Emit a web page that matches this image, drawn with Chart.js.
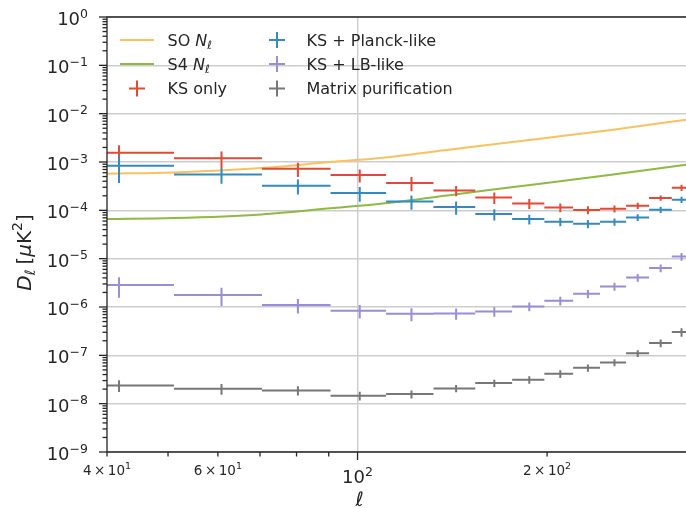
<!DOCTYPE html>
<html>
<head>
<meta charset="utf-8">
<script src="https://cdn.jsdelivr.net/npm/chart.js@4.4.0/dist/chart.umd.min.js"></script>
<style>
  html, body { margin: 0; padding: 0; background: #fff; overflow: hidden; }
</style>
</head>
<body>
<canvas id="chart" width="686" height="508"></canvas>
<script>
// ── Data ───────────────────────────────────────────────────────────

// multipole bins: edges and centres
const BIN_EDGES = [32.5, 51.1, 70.5, 90.6, 111, 132, 153.8, 176, 198, 220, 242.7, 267, 290.4, 315.6, 340];
const BIN_ELL   = [41.8, 60.8, 80.4, 100.8, 121.8, 143.4, 164.9, 187.4, 209.9, 232.2, 255.9, 278.6, 303, 327];

const KS_ONLY      = [1.56e-3, 1.19e-3, 7.27e-4, 5.38e-4, 3.67e-4, 2.58e-4, 1.85e-4, 1.39e-4, 1.15e-4, 1.02e-4, 1.08e-4, 1.25e-4, 1.80e-4, 2.94e-4];
const KS_ONLY_ERR  = [6.6e-4, 4.5e-4, 2.4e-4, 1.6e-4, 1.2e-4, 6.2e-5, 5.0e-5, 3.2e-5, 2.4e-5, 1.9e-5, 1.8e-5, 1.9e-5, 2.2e-5, 4.3e-5];

const KS_PLANCK     = [8.38e-4, 5.53e-4, 3.23e-4, 2.28e-4, 1.53e-4, 1.17e-4, 8.39e-5, 6.6e-5, 5.8e-5, 5.28e-5, 5.8e-5, 7.14e-5, 1.03e-4, 1.66e-4];
const KS_PLANCK_ERR = [4.7e-4, 2.0e-4, 1.1e-4, 7.7e-5, 5.0e-5, 3.6e-5, 2.2e-5, 1.5e-5, 1.1e-5, 1.0e-5, 1.0e-5, 1.15e-5, 1.5e-5, 2.4e-5];

const KS_LB     = [2.85e-6, 1.77e-6, 1.10e-6, 8.37e-7, 7.26e-7, 7.36e-7, 8.1e-7, 1.03e-6, 1.35e-6, 1.88e-6, 2.67e-6, 4.09e-6, 6.41e-6, 1.11e-5];
const KS_LB_ERR = [1.3e-6, 7.2e-7, 3.7e-7, 2.6e-7, 2.2e-7, 1.9e-7, 1.8e-7, 2.1e-7, 2.7e-7, 3.6e-7, 5.0e-7, 7.5e-7, 1.2e-6, 2.0e-6];

const MATRIX     = [2.39e-8, 2.04e-8, 1.88e-8, 1.46e-8, 1.58e-8, 2.07e-8, 2.67e-8, 3.13e-8, 4.16e-8, 5.54e-8, 7.13e-8, 1.10e-7, 1.80e-7, 3.03e-7];
const MATRIX_ERR = [6.5e-9, 5.1e-9, 4.0e-9, 3.0e-9, 3.0e-9, 3.5e-9, 4.5e-9, 5.5e-9, 7.5e-9, 9.5e-9, 1.2e-8, 1.8e-8, 3.3e-8, 6.0e-8];

// noise curves
const NOISE_ELL = [40, 51, 70.4, 90.6, 108.8, 145.7, 195, 254.7, 332.4];
const SO_NL     = [5.73e-4, 6.09e-4, 7.52e-4, 1.0e-3, 1.21e-3, 1.92e-3, 3.03e-3, 4.66e-3, 7.5e-3];
const S4_NL     = [6.61e-5, 6.93e-5, 8.24e-5, 1.10e-4, 1.37e-4, 2.21e-4, 3.56e-4, 5.54e-4, 8.79e-4];

// axes
const X_MIN = 40, X_MAX = 332.4;
const Y_EXPS = [-9, -8, -7, -6, -5, -4, -3, -2, -1, 0];
const X_TICKS = [40, 50, 60, 70, 80, 90, 100, 200];
const X_MAJOR = [100];
const X_LABEL_AT   = [40, 60, 200];
const X_LABEL_MANT = ['4', '6', '2'];
const X_LABEL_EXP  = ['1', '1', '2'];

// ── Style ──────────────────────────────────────────────────────────

const FONT = "'DejaVu Sans'";
const INK  = '#262626';
const GRID = '#cdcdcd';
const COL = {
  so: '#FBC15E', s4: '#8EBA42',
  ks: '#E24A33', planck: '#348ABD', lb: '#988ED5', matrix: '#777777',
};

// horizontal bin bar + vertical error bar for each bin, separated by gaps
function errorbarPoints(vals, errs) {
  const pts = [];
  vals.forEach((v, i) => {
    pts.push({ x: BIN_EDGES[i], y: v }, { x: BIN_EDGES[i + 1], y: v }, { x: BIN_EDGES[i + 1], y: null });
    pts.push({ x: BIN_ELL[i], y: v - errs[i] }, { x: BIN_ELL[i], y: v + errs[i] }, { x: BIN_ELL[i], y: null });
  });
  return pts;
}

function errorSet(label, vals, errs, color, order) {
  return {
    label, data: errorbarPoints(vals, errs),
    borderColor: color, borderWidth: 2, pointRadius: 0,
    spanGaps: false, tension: 0, clip: 0, order,
  };
}

function curveSet(label, vals, color) {
  return {
    label, data: NOISE_ELL.map((l, i) => ({ x: l, y: vals[i] })),
    borderColor: color, borderWidth: 2, pointRadius: 0,
    cubicInterpolationMode: 'monotone', clip: 0, order: 10,
  };
}

// ── Rich text helper (mathtext-like super/subscripts) ─────────────

function fontOf(p) { return `${p.it ? 'italic ' : ''}${p.s}px ${FONT}`; }

function richWidth(ctx, parts) {
  let w = 0;
  for (const p of parts) { ctx.font = fontOf(p); w += ctx.measureText(p.t).width + (p.gap || 0); }
  return w;
}

function drawRich(ctx, parts, x, y, align) {
  const w = richWidth(ctx, parts);
  let cx = align === 'right' ? x - w : align === 'center' ? x - w / 2 : x;
  for (const p of parts) {
    ctx.font = fontOf(p);
    ctx.fillText(p.t, cx, y + (p.dy || 0));
    cx += ctx.measureText(p.t).width + (p.gap || 0);
  }
}

function supExp(e) { return e < 0 ? '\u2212' + (-e) : String(e); }

// ── Axes decoration: spines, ticks, labels, legend ────────────────

const decor = {
  id: 'decor',
  afterDraw(chart) {
    const { ctx, chartArea: a, scales: { x, y } } = chart;
    ctx.save();
    ctx.strokeStyle = INK;
    ctx.fillStyle = INK;
    ctx.lineWidth = 1.3;
    ctx.textBaseline = 'alphabetic';

    // spines
    ctx.beginPath();
    ctx.moveTo(a.right + 2, a.top); ctx.lineTo(a.left, a.top);
    ctx.lineTo(a.left, a.bottom); ctx.lineTo(a.right + 2, a.bottom);
    ctx.stroke();

    // y ticks (major + minor) and labels
    Y_EXPS.forEach(e => {
      for (let m = 1; m <= 9; m++) {
        if (e === 0 && m > 1) break;
        const py = y.getPixelForValue(m * Math.pow(10, e));
        const len = m === 1 ? 8 : 4.5;
        ctx.beginPath(); ctx.moveTo(a.left - len, py); ctx.lineTo(a.left, py); ctx.stroke();
      }
      const py = y.getPixelForValue(Math.pow(10, e));
      drawRich(ctx, [{ t: '10', s: 18 }, { t: supExp(e), s: 12.5, dy: -7.5 }], a.left - 19, py + 8, 'right');
    });

    // x ticks and labels
    X_TICKS.forEach(v => {
      const px = x.getPixelForValue(v);
      if (px > a.right + 1) return;
      const len = X_MAJOR.includes(v) ? 8 : 4.5;
      ctx.beginPath(); ctx.moveTo(px, a.bottom); ctx.lineTo(px, a.bottom + len); ctx.stroke();
    });
    X_MAJOR.forEach(v => {
      const px = x.getPixelForValue(v);
      drawRich(ctx, [{ t: '10', s: 18 }, { t: String(Math.round(Math.log10(v))), s: 12.5, dy: -7.5 }], px, a.bottom + 31, 'center');
    });
    X_LABEL_AT.forEach((v, i) => {
      const px = x.getPixelForValue(v);
      drawRich(ctx, [
        { t: X_LABEL_MANT[i], s: 13.5, gap: 2.5 }, { t: '\u00d7', s: 13.5, gap: 2.5 },
        { t: '10', s: 13.5 }, { t: X_LABEL_EXP[i], s: 9.5, dy: -6 },
      ], px, a.bottom + 23, 'center');
    });

    // axis titles
    drawRich(ctx, [{ t: '\u2113', s: 20, it: true }], x.getPixelForValue(100) + 2, 506, 'center');
    ctx.save();
    ctx.translate(31, (a.top + a.bottom) / 2 + 18);
    ctx.rotate(-Math.PI / 2);
    drawRich(ctx, [
      { t: 'D', s: 20, it: true }, { t: '\u2113', s: 14, it: true, dy: 4, gap: 5 },
      { t: '[', s: 20 }, { t: '\u03bc', s: 20, it: true }, { t: 'K', s: 20 },
      { t: '2', s: 14, dy: -9 }, { t: ']', s: 20 },
    ], 0, 0, 'center');
    ctx.restore();

    // legend (two columns, no frame)
    const rows = [40, 64, 88.5];
    const lineHandle = (yy, c) => {
      ctx.strokeStyle = c; ctx.lineWidth = 2;
      ctx.beginPath(); ctx.moveTo(120, yy); ctx.lineTo(154, yy); ctx.stroke();
    };
    const plusHandle = (cx, yy, c) => {
      ctx.strokeStyle = c; ctx.lineWidth = 2;
      ctx.beginPath();
      ctx.moveTo(cx - 8, yy); ctx.lineTo(cx + 8, yy);
      ctx.moveTo(cx, yy - 8); ctx.lineTo(cx, yy + 8);
      ctx.stroke();
    };
    lineHandle(rows[0], COL.so);
    lineHandle(rows[1], COL.s4);
    plusHandle(137, rows[2], COL.ks);
    plusHandle(277, rows[0], COL.planck);
    plusHandle(277, rows[1], COL.lb);
    plusHandle(277, rows[2], COL.matrix);

    ctx.fillStyle = INK;
    drawRich(ctx, [{ t: 'SO ', s: 16 }, { t: 'N', s: 16, it: true }, { t: '\u2113', s: 11.5, it: true, dy: 3 }], 167.5, rows[0] + 5.8, 'left');
    drawRich(ctx, [{ t: 'S4 ', s: 16 }, { t: 'N', s: 16, it: true }, { t: '\u2113', s: 11.5, it: true, dy: 3 }], 167.5, rows[1] + 5.8, 'left');
    drawRich(ctx, [{ t: 'KS only', s: 16 }], 167.5, rows[2] + 5.8, 'left');
    drawRich(ctx, [{ t: 'KS + Planck-like', s: 16 }], 306.5, rows[0] + 5.8, 'left');
    drawRich(ctx, [{ t: 'KS + LB-like', s: 16 }], 306.5, rows[1] + 5.8, 'left');
    drawRich(ctx, [{ t: 'Matrix purification', s: 16 }], 306.5, rows[2] + 5.8, 'left');

    ctx.restore();
  },
};

// ── Chart ──────────────────────────────────────────────────────────

const isDecade = v => Math.abs(Math.log10(v) - Math.round(Math.log10(v))) < 1e-6;

new Chart(document.getElementById('chart').getContext('2d'), {
  type: 'line',
  data: {
    datasets: [
      curveSet('SO N_ell', SO_NL, COL.so),
      curveSet('S4 N_ell', S4_NL, COL.s4),
      errorSet('KS only', KS_ONLY, KS_ONLY_ERR, COL.ks, 4),
      errorSet('KS + Planck-like', KS_PLANCK, KS_PLANCK_ERR, COL.planck, 3),
      errorSet('KS + LB-like', KS_LB, KS_LB_ERR, COL.lb, 2),
      errorSet('Matrix purification', MATRIX, MATRIX_ERR, COL.matrix, 1),
    ],
  },
  options: {
    responsive: false,
    animation: false,
    events: [],
    layout: { padding: { left: 107, top: 17, right: 0, bottom: 56 } },
    plugins: { legend: { display: false }, tooltip: { enabled: false } },
    scales: {
      x: {
        type: 'logarithmic', min: X_MIN, max: X_MAX,
        ticks: { display: false },
        border: { display: false },
        grid: {
          drawTicks: false, lineWidth: 1.4,
          color: c => (c.tick && X_MAJOR.includes(c.tick.value)) ? GRID : 'rgba(0,0,0,0)',
        },
      },
      y: {
        type: 'logarithmic', min: 1e-9, max: 1,
        ticks: { display: false },
        border: { display: false },
        grid: {
          drawTicks: false, lineWidth: 1.4,
          color: c => (c.tick && isDecade(c.tick.value)) ? GRID : 'rgba(0,0,0,0)',
        },
      },
    },
  },
  plugins: [decor],
});
</script>
</body>
</html>
